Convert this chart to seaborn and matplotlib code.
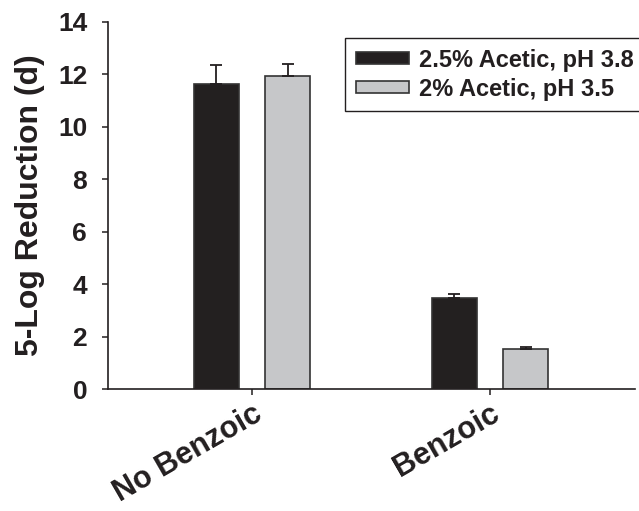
import pandas as pd
import matplotlib.pyplot as plt
import seaborn as sns
from matplotlib.patches import Patch

# values
groups = ["No Benzoic", "Benzoic"]
treatments = ["2.5% Acetic, pH 3.8", "2% Acetic, pH 3.5"]
acetic_25 = [11.62, 3.48]
acetic_25_err = [0.74, 0.15]
acetic_2 = [11.95, 1.54]
acetic_2_err = [0.42, 0.05]

df = pd.DataFrame({
    "Group": groups * 2,
    "Treatment": [treatments[0]] * 2 + [treatments[1]] * 2,
    "Reduction": acetic_25 + acetic_2,
})
errs = [acetic_25_err, acetic_2_err]

sns.set_style("ticks")
plt.rcParams["font.family"] = ["Liberation Sans", "DejaVu Sans"]
plt.rcParams["font.weight"] = "bold"

ink = "#231f20"
colors = [ink, "#c6c7c9"]

fig = plt.figure(figsize=(6.39, 5.11), dpi=100)
ax = fig.add_axes([0.169, 0.2387, 0.8247, 0.7188])

sns.barplot(data=df, x="Group", y="Reduction", hue="Treatment",
            order=groups, hue_order=treatments, palette=colors,
            width=0.6, gap=0.37, edgecolor="#333333", linewidth=1.2,
            errorbar=None, ax=ax)

# upward-only error bars
for cont, err in zip(ax.containers, errs):
    xs = [b.get_x() + b.get_width() / 2 for b in cont]
    ys = [b.get_height() for b in cont]
    ax.errorbar(xs, ys, yerr=[[0] * len(err), err], fmt="none",
                ecolor=ink, elinewidth=1.3, capsize=4.5, capthick=1.3)

ax.set_xlim(-0.605, 1.609)
ax.set_ylim(0, 14)
ax.set_yticks(range(0, 15, 2))
ax.set_xlabel("")
ax.set_ylabel("5-Log Reduction (d)", fontsize=23, fontweight="bold",
              color=ink, labelpad=9)

sns.despine(ax=ax)
for s in ["left", "bottom"]:
    ax.spines[s].set_color(ink)
    ax.spines[s].set_linewidth(1.2)
ax.tick_params(axis="both", direction="out", length=4, width=1.1,
               color=ink, labelcolor=ink)
ax.tick_params(axis="y", labelsize=19, pad=11)
ax.tick_params(axis="x", labelsize=22, pad=3)
for lab in ax.get_xticklabels():
    lab.set_rotation(30)
    lab.set_ha("right")
    lab.set_va("top")
    lab.set_rotation_mode("anchor")
    lab.set_fontweight("bold")
for lab in ax.get_yticklabels():
    lab.set_fontweight("bold")

handles = [Patch(facecolor=c, edgecolor="#333333", linewidth=1.2) for c in colors]
if ax.get_legend() is not None:
    ax.get_legend().remove()
leg = ax.legend(handles, treatments, loc="upper left",
                bbox_to_anchor=(0.54, 0.9256), bbox_transform=fig.transFigure,
                borderaxespad=0,
                prop={"size": 17, "weight": "bold"}, frameon=True,
                fancybox=False, framealpha=1, edgecolor=ink,
                handlelength=2.25, handleheight=0.4, handletextpad=0.42,
                borderpad=0.45, labelspacing=0.25)
leg.get_frame().set_linewidth(1.0)
for t in leg.get_texts():
    t.set_color(ink)

fig.savefig("out.png", dpi=100)
